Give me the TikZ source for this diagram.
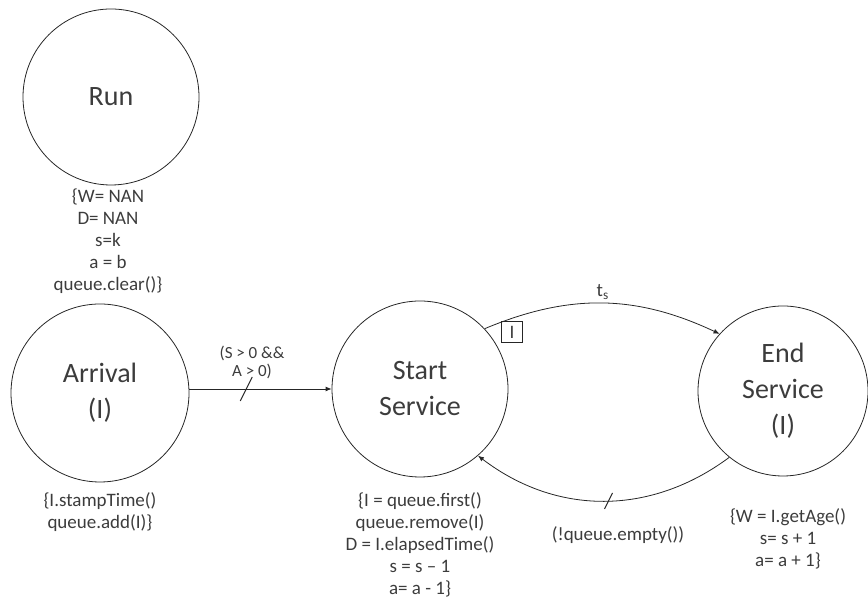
\documentclass[tikz,border=0pt]{standalone}
\usepackage{fontspec}
\setmainfont{Carlito}
\usepackage{tikz}
\usetikzlibrary{calc,arrows.meta}
\definecolor{ink}{HTML}{3C3C3C}
\definecolor{wire}{HTML}{262626}

\begin{document}
\begin{tikzpicture}[x=1pt,y=1pt,
  state/.style={circle,draw=wire,line width=0.8pt,inner sep=0pt,text=ink,align=center,
    font=\fontsize{28}{36}\selectfont},
  note/.style={text=ink,align=center,font=\fontsize{19}{22}\selectfont},
  edge/.style={draw=wire,line width=0.8pt,-{Latex[length=6pt,width=5pt]}},
  gate/.style={draw=wire,line width=1pt}]
\useasboundingbox (0,0) rectangle (868,601);
% events
\node[state,minimum size=176pt] (run)   at (111,504) {Run};
\node[state,minimum size=178pt] (arr)   at (100,208) {Arrival\\(I)};
\node[state,minimum size=176pt] (start) at (420,212) {Start\\Service};
\node[state,minimum size=170pt] (end)   at (783,210) {End\\Service\\(I)};
% state changes
\node[note] (runnote)   at (108,360) {\{W= NAN\\D= NAN\\s=k\\a = b\\queue.clear()\}};
\node[note] (arrnote)   at (100,89)  {\{I.stampTime()\\queue.add(I)\}};
\node[note] (startnote) at (420,56)  {\{I = queue.first()\\queue.remove(I)\\D = I.elapsedTime()\\s = s -- 1\\a= a - 1\}};
\node[note] (endnote)   at (788,62)  {\{W = I.getAge()\\s= s + 1\\a= a + 1\}};
% edges
\draw[edge] (arr.east |- start.west) -- coordinate[pos=0.4] (g1) (start.west);
\draw[gate] ($(g1)+(-6,-12)$) -- ($(g1)+(6,12)$);
\node[note,font=\fontsize{17}{18}\selectfont] (cond1) at (252,239) {(S > 0 \&\&\\A > 0)};
\draw[edge] (start.43) to[bend left=24] node[note,pos=0.5,above] (ts) {t\textsubscript{s}} (end.138);
\node[draw=wire,line width=0.6pt,note,minimum size=21pt,inner sep=0pt] (tok) at (512,269) {I};
\draw[edge] (end.231) to[bend left=37] node[coordinate,pos=0.48] (g2) {} (start.311);
\draw[gate] ($(g2)+(-4,-8)$) -- ($(g2)+(4,8)$);
\node[note] (cond2) at (618,66) {(!queue.empty())};
\end{tikzpicture}
\end{document}
